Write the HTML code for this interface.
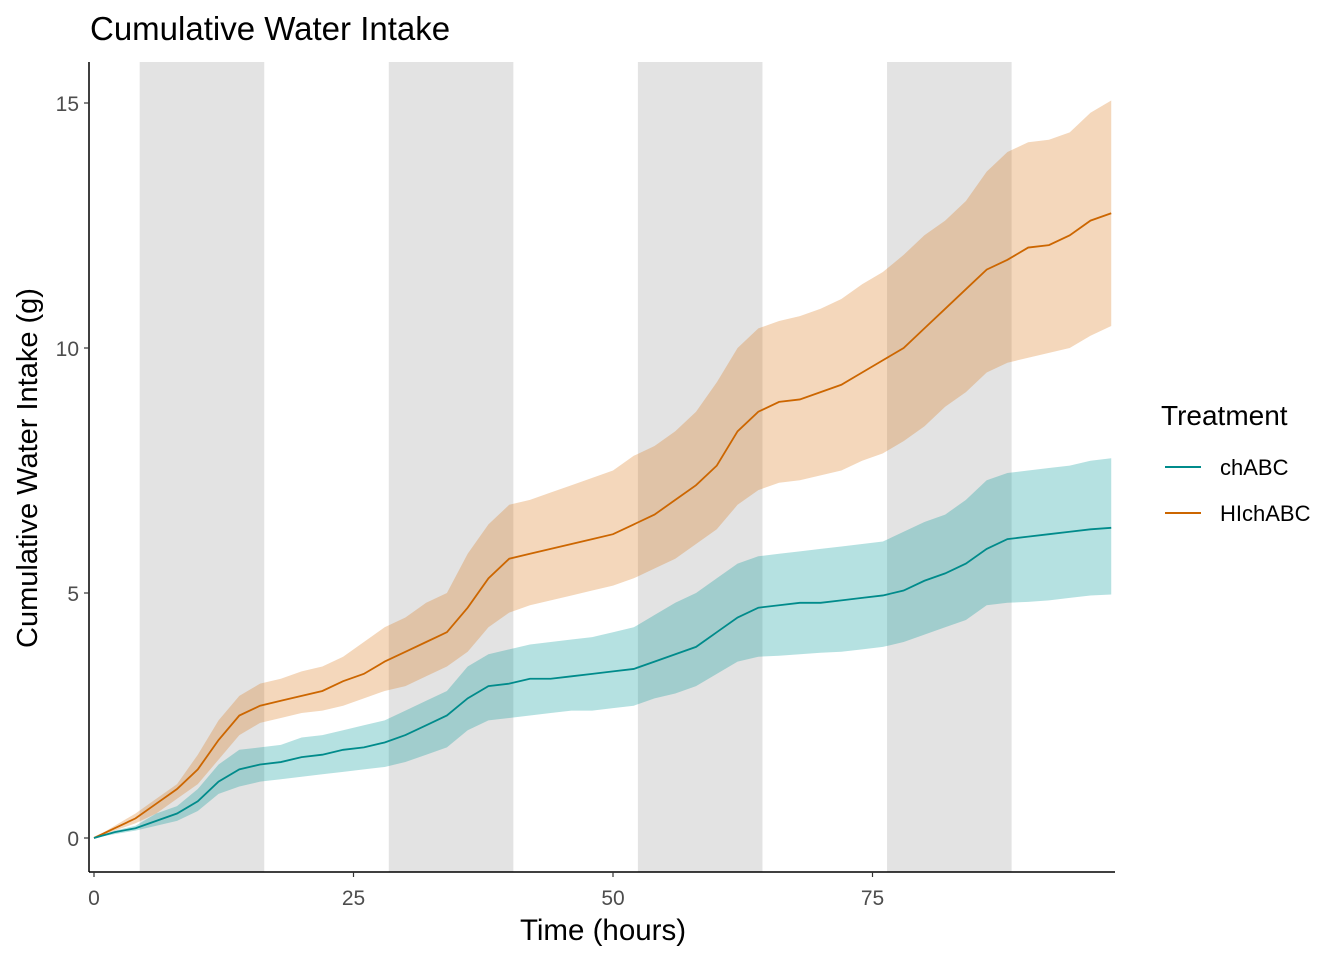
<!DOCTYPE html>
<html><head><meta charset="utf-8"><style>
body{margin:0;background:#fff;font-family:"Liberation Sans",Arial,sans-serif}
</style></head><body>
<svg id="chart" width="1344" height="960" xmlns="http://www.w3.org/2000/svg">
<text x="90" y="40" font-size="33" fill="#000">Cumulative Water Intake</text>
<g id="bands"></g><g id="ribbons"></g><g id="lines"></g><g id="axes"></g>
<text x="603" y="940" font-size="29.5" text-anchor="middle" fill="#000">Time (hours)</text>
<text transform="translate(37,468) rotate(-90)" font-size="29" text-anchor="middle" fill="#000">Cumulative Water Intake (g)</text>
<g>
<text x="1161" y="425" font-size="28" fill="#000">Treatment</text>
<line x1="1165" y1="467" x2="1201" y2="467" stroke="#008B8B" stroke-width="2"/>
<text x="1220" y="475" font-size="22" fill="#000">chABC</text>
<line x1="1165" y1="513" x2="1201" y2="513" stroke="#CC6600" stroke-width="2"/>
<text x="1220" y="521" font-size="22" fill="#000">HIchABC</text>
</g>
</svg>
<script>
const time=[0,2,4,6,8,10,12,14,16,18,20,22,24,26,28,30,32,34,36,38,40,42,44,46,48,50,52,54,56,58,60,62,64,66,68,70,72,74,76,78,80,82,84,86,88,90,92,94,96,98];
const hiMean=[0,0.2,0.4,0.7,1.0,1.4,2.0,2.5,2.7,2.8,2.9,3.0,3.2,3.35,3.6,3.8,4.0,4.2,4.7,5.3,5.7,5.8,5.9,6.0,6.1,6.2,6.4,6.6,6.9,7.2,7.6,8.3,8.7,8.9,8.95,9.1,9.25,9.5,9.75,10.0,10.4,10.8,11.2,11.6,11.8,12.05,12.1,12.3,12.6,12.75];
const hiUpper=[0,0.25,0.5,0.8,1.1,1.7,2.4,2.9,3.15,3.25,3.4,3.5,3.7,4.0,4.3,4.5,4.8,5.0,5.8,6.4,6.8,6.9,7.05,7.2,7.35,7.5,7.8,8.0,8.3,8.7,9.3,10.0,10.4,10.55,10.65,10.8,11.0,11.3,11.55,11.9,12.3,12.6,13.0,13.6,14.0,14.2,14.25,14.4,14.8,15.05];
const hiLower=[0,0.15,0.3,0.5,0.8,1.1,1.6,2.1,2.35,2.45,2.55,2.6,2.7,2.85,3.0,3.1,3.3,3.5,3.8,4.3,4.6,4.75,4.85,4.95,5.05,5.15,5.3,5.5,5.7,6.0,6.3,6.8,7.1,7.25,7.3,7.4,7.5,7.7,7.85,8.1,8.4,8.8,9.1,9.5,9.7,9.8,9.9,10.0,10.25,10.45];
const chMean=[0,0.12,0.2,0.35,0.5,0.75,1.15,1.4,1.5,1.55,1.65,1.7,1.8,1.85,1.95,2.1,2.3,2.5,2.85,3.1,3.15,3.25,3.25,3.3,3.35,3.4,3.45,3.6,3.75,3.9,4.2,4.5,4.7,4.75,4.8,4.8,4.85,4.9,4.95,5.05,5.25,5.4,5.6,5.9,6.1,6.15,6.2,6.25,6.3,6.33];
const chUpper=[0,0.15,0.25,0.5,0.65,1.0,1.5,1.8,1.85,1.9,2.05,2.1,2.2,2.3,2.4,2.6,2.8,3.0,3.5,3.75,3.85,3.95,4.0,4.05,4.1,4.2,4.3,4.55,4.8,5.0,5.3,5.6,5.75,5.8,5.85,5.9,5.95,6.0,6.05,6.25,6.45,6.6,6.9,7.3,7.45,7.5,7.55,7.6,7.7,7.75];
const chLower=[0,0.08,0.15,0.25,0.35,0.55,0.9,1.05,1.15,1.2,1.25,1.3,1.35,1.4,1.45,1.55,1.7,1.85,2.2,2.4,2.45,2.5,2.55,2.6,2.6,2.65,2.7,2.85,2.95,3.1,3.35,3.6,3.7,3.72,3.75,3.78,3.8,3.85,3.9,4.0,4.15,4.3,4.45,4.75,4.8,4.82,4.85,4.9,4.95,4.97];
const darkStart=[4.4,28.4,52.4,76.4];
const darkEnd=[16.4,40.4,64.4,88.4];
const xTicks=[0,25,50,75];
const yTicks=[0,5,10,15];

(function(){
const NS="http://www.w3.org/2000/svg";
const X=h=>94+h*10.38, Y=v=>838-v*49;
const pTop=62,pBot=872,pLeft=89,pRight=1115;
function mk(tag,attrs,parent){const e=document.createElementNS(NS,tag);for(const k in attrs)e.setAttribute(k,attrs[k]);document.getElementById(parent).appendChild(e);return e;}
darkStart.forEach((s,i)=>{const r=mk('rect',{x:X(s),y:pTop,width:X(darkEnd[i])-X(s),height:pBot-pTop,fill:'#E3E3E3'},'bands');

});
function ribbon(up,lo,col,name){let d='M'+time.map((t,i)=>X(t)+','+Y(up[i])).join('L');
d+='L'+time.map((t,i)=>X(t)+','+Y(lo[i])).reverse().join('L')+'Z';
const p=mk('path',{d:d,fill:col,'fill-opacity':0.3},'ribbons');

}
function line(m,col,name){const p=mk('path',{d:'M'+time.map((t,i)=>X(t)+','+Y(m[i])).join('L'),fill:'none',stroke:col,'stroke-width':1.8},'lines');

}
ribbon(hiUpper,hiLower,'#D97A1F','hichabc-ribbon');
ribbon(chUpper,chLower,'#0A9A9A','chabc-ribbon');
line(hiMean,'#CC6600','hichabc-line');
line(chMean,'#008B8B','chabc-line');
const ax1=mk('line',{x1:pLeft,y1:pTop,x2:pLeft,y2:pBot,stroke:'#000','stroke-width':1.5},'axes');


const ax2=mk('line',{x1:pLeft,y1:pBot,x2:pRight,y2:pBot,stroke:'#000','stroke-width':1.5},'axes');


xTicks.forEach(t=>{mk('line',{x1:X(t),y1:pBot,x2:X(t),y2:pBot+5,stroke:'#333','stroke-width':1.2},'axes');
const tx=mk('text',{x:X(t),y:pBot+33,'font-size':21,'text-anchor':'middle',fill:'#4d4d4d'},'axes');tx.textContent=t;

});
yTicks.forEach(t=>{mk('line',{x1:pLeft-5,y1:Y(t),x2:pLeft,y2:Y(t),stroke:'#333','stroke-width':1.2},'axes');
const tx=mk('text',{x:pLeft-10,y:Y(t)+8,'font-size':21,'text-anchor':'end',fill:'#4d4d4d'},'axes');tx.textContent=t;

});
})();
</script>
</body></html>
